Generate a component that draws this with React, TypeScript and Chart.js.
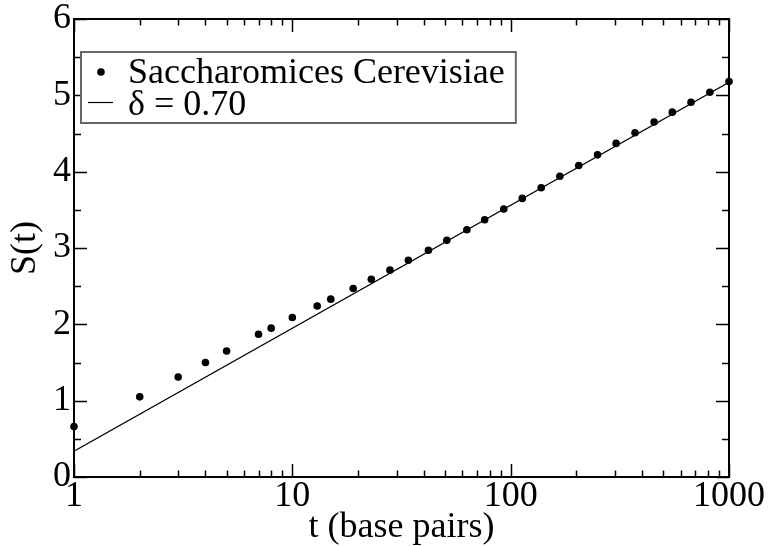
import React, { useEffect, useRef } from 'react';
import { Chart, registerables } from 'chart.js';

Chart.register(...registerables);

const seriesLabel = 'Saccharomices Cerevisiae';
const fitLabel = 'δ = 0.70';
const tValues = [1, 2, 3, 4, 5, 7, 8, 10, 13, 15, 19, 23, 28, 34, 42, 51, 63, 76, 93, 113, 138, 168, 205, 250, 304, 371, 454, 550, 670, 817, 1000];
const sValues = [0.66, 1.05, 1.31, 1.5, 1.65, 1.87, 1.95, 2.09, 2.24, 2.33, 2.47, 2.59, 2.71, 2.84, 2.97, 3.1, 3.24, 3.37, 3.51, 3.65, 3.79, 3.94, 4.08, 4.22, 4.37, 4.51, 4.65, 4.78, 4.91, 5.04, 5.18];
const fitT = [1, 1000];
const fitS = [0.337, 5.17];
const xMajorTicks = [1, 10, 100, 1000];
const xMinorSteps = [2, 3, 4, 5, 6, 7, 8, 9];
const yMajorTicks = [0, 1, 2, 3, 4, 5, 6];
const xTitle = 't (base pairs)';
const yTitle = 'S(t)';

const FONT = "'Liberation Serif', 'Times New Roman', serif";
const W = 768;
const H = 546;

function buildXTicks() {
  const out: number[] = [];
  for (let i = 0; i < xMajorTicks.length; i++) {
    out.push(xMajorTicks[i]);
    if (i < xMajorTicks.length - 1) {
      for (const m of xMinorSteps) out.push(xMajorTicks[i] * m);
    }
  }
  return out;
}

const frameTicksPlugin = {
  id: 'frameTicks',
  afterDraw(chart: any) {
    const { ctx, chartArea: a, scales } = chart;
    const x = scales.x;
    const y = scales.y;
    ctx.save();
    ctx.strokeStyle = '#000';
    ctx.lineWidth = 1.5;
    const seg = (x1: number, y1: number, x2: number, y2: number) => {
      ctx.beginPath();
      ctx.moveTo(x1, y1);
      ctx.lineTo(x2, y2);
      ctx.stroke();
    };
    for (const t of x.ticks) {
      const px = Math.round(x.getPixelForValue(t.value)) + 0.5;
      const L = xMajorTicks.includes(t.value) ? 13 : 6.5;
      seg(px, a.bottom, px, a.bottom - L);
      seg(px, a.top, px, a.top + L);
    }
    for (const t of y.ticks) {
      const py = Math.round(y.getPixelForValue(t.value)) + 0.5;
      const L = yMajorTicks.includes(t.value) ? 13 : 7;
      seg(a.left, py, a.left + L, py);
      seg(a.right, py, a.right - L, py);
    }
    ctx.lineWidth = 2;
    ctx.strokeRect(a.left, a.top, a.right - a.left, a.bottom - a.top);
    ctx.restore();
  },
};

const legendPlugin = {
  id: 'boxLegend',
  afterDraw(chart: any) {
    const { ctx, chartArea: a } = chart;
    const ds = chart.data.datasets;
    ctx.save();
    ctx.font = `36px ${FONT}`;
    const boxL = a.left + 7;
    const boxT = a.top + 33;
    const textX = a.left + 54;
    const rows = [a.top + 64, a.top + 96];
    let maxW = 0;
    for (const d of ds) maxW = Math.max(maxW, ctx.measureText(d.label).width);
    const boxR = textX + maxW + 11;
    const boxB = a.top + 104;
    ctx.fillStyle = '#fff';
    ctx.fillRect(boxL, boxT, boxR - boxL, boxB - boxT);
    ctx.strokeStyle = '#666';
    ctx.lineWidth = 2;
    ctx.strokeRect(boxL, boxT, boxR - boxL, boxB - boxT);
    ds.forEach((d: any, i: number) => {
      const base = rows[i];
      ctx.fillStyle = '#000';
      ctx.strokeStyle = '#000';
      if (d.showLine === false) {
        ctx.beginPath();
        ctx.arc(textX - 27, base - 11, 3.8, 0, Math.PI * 2);
        ctx.fill();
      } else {
        ctx.lineWidth = 1.2;
        ctx.beginPath();
        ctx.moveTo(textX - 40, base - 12.5);
        ctx.lineTo(textX - 15, base - 12.5);
        ctx.stroke();
      }
      ctx.textBaseline = 'alphabetic';
      ctx.textAlign = 'left';
      ctx.fillText(d.label, textX, base);
    });
    ctx.restore();
  },
};

export default function App() {
  const ref = useRef<HTMLCanvasElement | null>(null);
  useEffect(() => {
    if (!ref.current) return;
    const chart = new Chart(ref.current, {
      type: 'scatter',
      data: {
        datasets: [
          {
            label: seriesLabel,
            data: tValues.map((t, i) => ({ x: t, y: sValues[i] })),
            showLine: false,
            pointRadius: 3.8,
            pointBackgroundColor: '#000',
            pointBorderWidth: 0,
            borderColor: '#000',
            backgroundColor: '#000',
            clip: false as any,
          },
          {
            type: 'line' as any,
            label: fitLabel,
            data: fitT.map((t, i) => ({ x: t, y: fitS[i] })),
            showLine: true,
            pointRadius: 0,
            borderColor: '#000',
            borderWidth: 1.2,
            fill: false,
          },
        ],
      },
      options: {
        responsive: false,
        devicePixelRatio: 1,
        animation: false,
        events: [],
        layout: { padding: { left: 0, right: 39, top: 19, bottom: 0 } },
        plugins: { legend: { display: false }, tooltip: { enabled: false } },
        scales: {
          x: {
            type: 'logarithmic',
            position: 'bottom',
            min: 1,
            max: 1000,
            grid: { display: false, drawTicks: false },
            border: { display: false },
            afterBuildTicks: (s: any) => {
              s.ticks = buildXTicks().map((v) => ({ value: v }));
            },
            afterFit: (s: any) => {
              s.height = 69;
              s.paddingLeft = 0;
              s.paddingRight = 0;
            },
            ticks: {
              autoSkip: false,
              maxRotation: 0,
              minRotation: 0,
              padding: 2,
              color: '#000',
              font: { family: FONT, size: 36, lineHeight: 1 },
              callback: (v: any) => (xMajorTicks.includes(Number(v)) ? String(v) : ''),
            },
            title: {
              display: true,
              text: xTitle,
              color: '#000',
              font: { family: FONT, size: 36, lineHeight: 1 },
              padding: { top: 0, bottom: 0 },
            },
          },
          y: {
            type: 'linear',
            min: 0,
            max: 6,
            grid: { display: false, drawTicks: false },
            border: { display: false },
            afterFit: (s: any) => {
              s.width = 74;
              s.paddingTop = 0;
              s.paddingBottom = 0;
            },
            ticks: {
              stepSize: 0.5,
              autoSkip: false,
              padding: 3,
              color: '#000',
              font: { family: FONT, size: 36, lineHeight: 1 },
              callback: (v: any) => (yMajorTicks.includes(Number(v)) ? String(v) : ''),
            },
            title: {
              display: true,
              text: yTitle,
              color: '#000',
              font: { family: FONT, size: 36, lineHeight: 1 },
              padding: { top: 8, bottom: 0 },
            },
          },
        },
      },
      plugins: [frameTicksPlugin, legendPlugin],
    });
    return () => chart.destroy();
  }, []);
  return (
    <div style={{ position: 'absolute', left: 0, top: 0, width: W, height: H, background: '#fff' }}>
      <canvas ref={ref} width={W} height={H} style={{ display: 'block' }} />
    </div>
  );
}
